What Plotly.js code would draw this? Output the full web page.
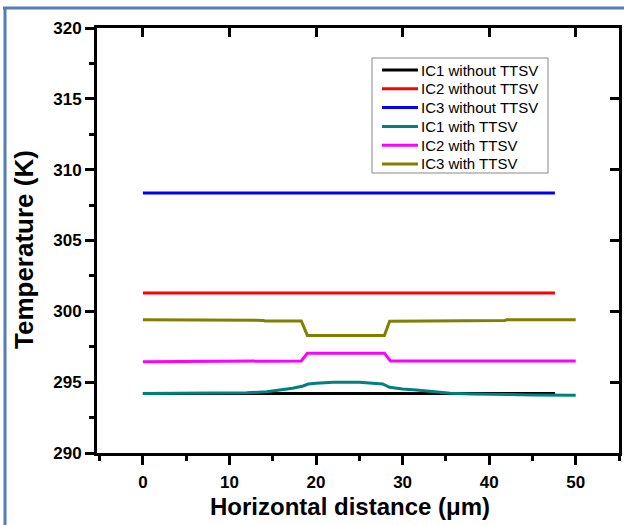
<!DOCTYPE html>
<html>
<head>
<meta charset="utf-8">
<script src="https://cdn.plot.ly/plotly-3.0.1.min.js"></script>
<style>html,body{margin:0;padding:0;background:#fff;}#chart{width:624px;height:525px;}</style>
</head>
<body>
<div id="chart"></div>
<script>
// ---- Data ----
const seriesNames = ["IC1 without TTSV","IC2 without TTSV","IC3 without TTSV","IC1 with TTSV","IC2 with TTSV","IC3 with TTSV"];
const seriesColors = ["#000000","#ff0000","#0000ff","#008080","#ff00ff","#808000"];

const xWithout = [0, 10, 20, 30, 40, 47.6];
const ic1Without = [294.2, 294.2, 294.2, 294.2, 294.2, 294.2];
const ic2Without = [301.3, 301.3, 301.3, 301.3, 301.3, 301.3];
const ic3Without = [308.35, 308.35, 308.35, 308.35, 308.35, 308.35];

const xIc1With = [0, 5, 10, 12, 14.3, 16, 17.3, 18.5, 19.1, 20, 22, 25, 27.7, 28.5, 30, 31.6, 33, 35.5, 38, 41.2, 45, 50];
const ic1With  = [294.2, 294.2, 294.2, 294.25, 294.33, 294.45, 294.57, 294.73, 294.87, 294.93, 294.99, 295.0, 294.87, 294.64, 294.52, 294.45, 294.35, 294.22, 294.17, 294.12, 294.1, 294.08];

const xIc2With = [0, 7.4, 7.6, 18.3, 19.0, 27.9, 28.6, 50];
const ic2With  = [296.45, 296.45, 296.5, 296.5, 297.05, 297.05, 296.5, 296.5];

const xIc3With = [0, 8.7, 8.9, 13.9, 14.1, 18.3, 19.0, 27.9, 28.5, 34, 34.2, 41.8, 42, 50];
const ic3With  = [299.4, 299.4, 299.36, 299.36, 299.32, 299.32, 298.3, 298.3, 299.3, 299.3, 299.35, 299.35, 299.4, 299.4];

const xTicks = [0, 10, 20, 30, 40, 50];
const yTicks = [290, 295, 300, 305, 310, 315, 320];
const xTitle = 'Horizontal distance (μm)';
const yTitle = 'Temperature (K)';

// ---- Traces ----
const xs = [xWithout, xWithout, xWithout, xIc1With, xIc2With, xIc3With];
const ys = [ic1Without, ic2Without, ic3Without, ic1With, ic2With, ic3With];
const traces = seriesNames.map((n, i) => ({
  type: 'scatter', mode: 'lines', name: n, x: xs[i], y: ys[i],
  line: {color: seriesColors[i], width: 3}, showlegend: false
}));
traces.push({type:'scatter', mode:'lines', x:[], y:[], xaxis:'x2', yaxis:'y2', showlegend:false, hoverinfo:'skip'});

const FONT = "Arial, 'Liberation Sans', sans-serif";
const L = 97, R = 5, T = 28, B = 72, W = 624, H = 525;
const pw = W - L - R, ph = H - T - B;
const px = v => (v - L) / pw;
const py = v => (H - B - v) / ph;

// Legend drawn as a box with sample lines and text labels
const legLeft = 372, legRight = 548, legTop = 58, legBottom = 173;
const rowY0 = 70, rowStep = 18.8;
const shapes = [
  {type: 'line', xref: 'paper', yref: 'paper', x0: px(3), x1: px(624), y0: py(8), y1: py(8), line: {color: '#4f7fb3', width: 3}},
  {type: 'line', xref: 'paper', yref: 'paper', x0: px(5), x1: px(5), y0: py(7), y1: py(525), line: {color: '#4f7fb3', width: 3}},
  {type: 'rect', xref: 'paper', yref: 'paper', x0: px(legLeft), x1: px(legRight), y0: py(legBottom), y1: py(legTop),
   line: {color: '#888888', width: 1}, fillcolor: '#ffffff', layer: 'above'}
];
const annotations = [
  {xref: 'paper', yref: 'paper', x: px(350), y: py(507), xanchor: 'center', yanchor: 'middle', showarrow: false,
   text: xTitle, font: {family: FONT, size: 24, weight: 'bold', color: '#000'}},
  {xref: 'paper', yref: 'paper', x: px(24), y: py(250), xanchor: 'center', yanchor: 'middle', showarrow: false,
   textangle: -90, text: yTitle, font: {family: FONT, size: 26, weight: 'bold', color: '#000'}}
];
seriesNames.forEach((n, i) => {
  const yy = rowY0 + i * rowStep;
  shapes.push({type: 'line', xref: 'paper', yref: 'paper', x0: px(382), x1: px(418), y0: py(yy), y1: py(yy),
    line: {color: seriesColors[i], width: 3}, layer: 'above'});
  annotations.push({xref: 'paper', yref: 'paper', x: px(419), y: py(yy), xanchor: 'left', yanchor: 'middle',
    text: n, showarrow: false, font: {family: FONT, size: 15, color: '#000'}});
});

const layout = {
  width: W, height: H,
  margin: {l: L, r: R, t: T, b: B, pad: 0},
  paper_bgcolor: '#ffffff', plot_bgcolor: '#ffffff',
  showlegend: false,
  font: {family: FONT, color: '#000'},
  xaxis: {
    range: [-5.3, 55], tickvals: xTicks, ticktext: xTicks.map(String),
    ticks: 'outside', ticklen: 9, tickwidth: 3, tickcolor: '#000',
    minor: {dtick: 5, tick0: 0, ticks: 'outside', ticklen: 5, tickwidth: 3, tickcolor: '#000', showgrid: false},
    showline: true, linewidth: 3, linecolor: '#000', mirror: true,
    showgrid: false, zeroline: false, ticklabelstandoff: 3,
    tickfont: {family: FONT, size: 17, weight: 'bold'},
    automargin: false
  },
  yaxis: {
    range: [290, 320], tickvals: yTicks, ticktext: yTicks.map(String),
    ticks: 'outside', ticklen: 9, tickwidth: 3, tickcolor: '#000',
    minor: {dtick: 2.5, tick0: 290, ticks: 'outside', ticklen: 5, tickwidth: 3, tickcolor: '#000', showgrid: false},
    showline: true, linewidth: 3, linecolor: '#000', mirror: true,
    showgrid: false, zeroline: false,
    tickfont: {family: FONT, size: 17, weight: 'bold'},
    automargin: false
  },
  xaxis2: {
    overlaying: 'x', side: 'top', anchor: 'y2', matches: 'x', range: [-5.3, 55],
    tickvals: xTicks, showticklabels: false, ticks: 'inside', ticklen: 9, tickwidth: 3, tickcolor: '#000',
    showline: false, showgrid: false, zeroline: false
  },
  yaxis2: {
    overlaying: 'y', side: 'right', anchor: 'x2', range: [290, 320],
    tickvals: yTicks, showticklabels: false, ticks: 'inside', ticklen: 9, tickwidth: 3, tickcolor: '#000',
    showline: false, showgrid: false, zeroline: false
  },
  shapes: shapes,
  annotations: annotations
};

Plotly.newPlot('chart', traces, layout, {staticPlot: true, displayModeBar: false});
</script>
</body>
</html>
